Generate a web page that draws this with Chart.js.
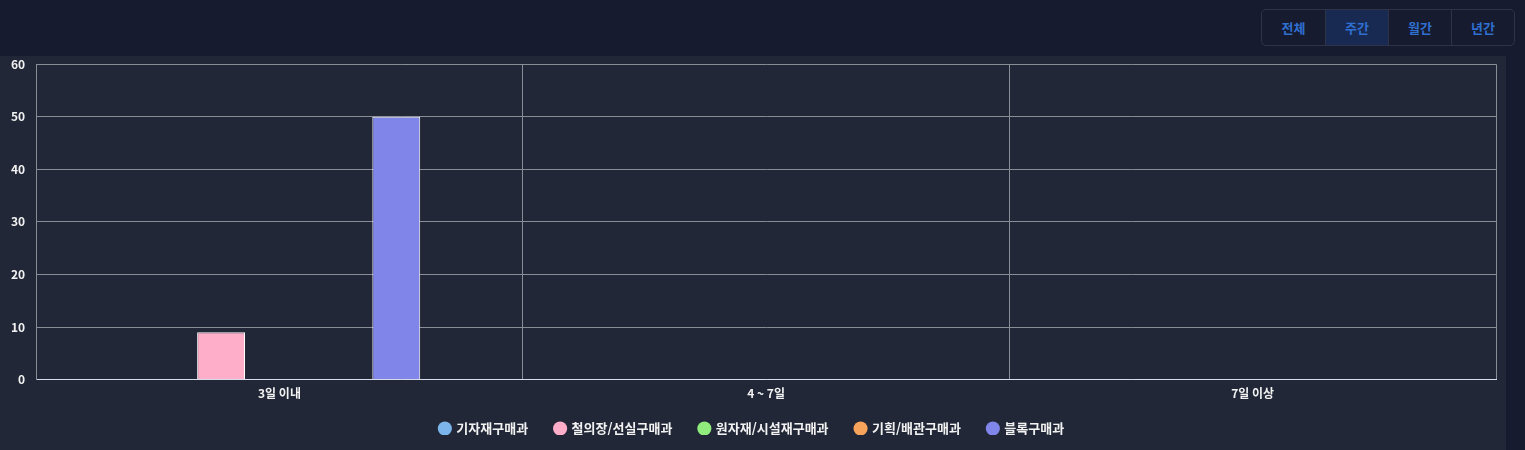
<!DOCTYPE html>
<html lang="ko">
<head>
<meta charset="utf-8">
<script src="https://cdn.jsdelivr.net/npm/chart.js@4"></script>
<style>
  html, body { margin: 0; padding: 0; }
  body {
    width: 1525px; height: 450px; overflow: hidden;
    background: #161b2f;
    font-family: "Noto Sans CJK KR", "Noto Sans", sans-serif;
    position: relative;
  }
  .tabs {
    position: absolute; left: 1261px; top: 9px;
    display: flex; border: 1px solid #2e3347; border-radius: 5px; overflow: hidden;
  }
  .tabs button {
    width: 63px; height: 35px; border: 0; border-left: 1px solid #2e3347;
    background: transparent; color: #2f6fd0; font: bold 13px "Noto Sans CJK KR", sans-serif;
    padding: 0; cursor: pointer;
  }
  .tabs button:first-child { border-left: 0; }
  .tabs button.active { background: #182a51; }
  .panel {
    position: absolute; left: 0; top: 56px; width: 1506px; height: 394px;
    background: #212736;
  }
  .wrap {
    position: absolute; left: 0; top: 46px; width: 1506px; height: 404px;
  }
</style>
</head>
<body>
<div class="tabs">
  <button>전체</button>
  <button class="active">주간</button>
  <button>월간</button>
  <button>년간</button>
</div>
<div class="panel"></div>
<div class="wrap"><canvas id="myChart"></canvas></div>
<script>
// 데이터
const categories = ['3일 이내', '4 ~ 7일', '7일 이상'];
const seriesNames = ['기자재구매과', '철의장/선실구매과', '원자재/시설재구매과', '기획/배관구매과', '블록구매과'];
const seriesColors = ['#7cb5ec', '#ffaec9', '#90ed7d', '#f7a35c', '#8085e9'];
const series1 = [0, 0, 0];
const series2 = [9, 0, 0];
const series3 = [0, 0, 0];
const series4 = [0, 0, 0];
const series5 = [50, 0, 0];
const yTicks = [0, 10, 20, 30, 40, 50, 60];

const allSeries = [series1, series2, series3, series4, series5];
const font = { family: '"Noto Sans CJK KR", sans-serif', weight: 'bold', size: 12 };

const ctx = document.getElementById('myChart').getContext('2d');
const myChart = new Chart(ctx, {
  type: 'bar',
  data: {
    labels: categories,
    datasets: allSeries.map((d, i) => ({
      label: seriesNames[i],
      data: d,
      backgroundColor: seriesColors[i],
      borderColor: '#ffffff',
      borderWidth: 1,
      categoryPercentage: 0.6,
      barPercentage: 0.82
    }))
  },
  options: {
    responsive: true,
    maintainAspectRatio: false,
    animation: false,
    layout: { padding: { top: 0, right: 10, left: 0, bottom: 2 } },
    plugins: {
      legend: {
        position: 'bottom',
        labels: {
          color: '#f2f2f2',
          usePointStyle: true,
          pointStyle: 'circle',
          boxWidth: 10,
          boxHeight: 10,
          padding: 27,
          font: { family: font.family, weight: 'bold', size: 13 },
          generateLabels: chart => Chart.defaults.plugins.legend.labels.generateLabels(chart)
            .map(l => Object.assign(l, { strokeStyle: l.fillStyle, lineWidth: 0 }))
        }
      }
    },
    scales: {
      x: {
        grid: { color: '#8a8d95', drawTicks: false },
        border: { color: '#d8dcea' },
        ticks: { color: '#f2f2f2', font: font, padding: 7 }
      },
      y: {
        min: 0,
        max: 60,
        afterBuildTicks: axis => { axis.ticks = yTicks.map(v => ({ value: v })); },
        grid: { color: '#8a8d95', drawTicks: false },
        border: { color: '#8a8d95' },
        ticks: { color: '#f2f2f2', font: font, padding: 11 }
      }
    }
  }
});

// 범례 높이를 줄이고 위로 당김 (가로 간격은 유지)
const legend = myChart.legend;
const origFit = legend.fit;
legend.fit = function () { origFit.call(this); this.height -= 10; };
const origDraw = legend.draw;
legend.draw = function () {
  this.ctx.save();
  this.ctx.translate(4, -13);
  origDraw.apply(this, arguments);
  this.ctx.restore();
};
myChart.update();
</script>
</body>
</html>
